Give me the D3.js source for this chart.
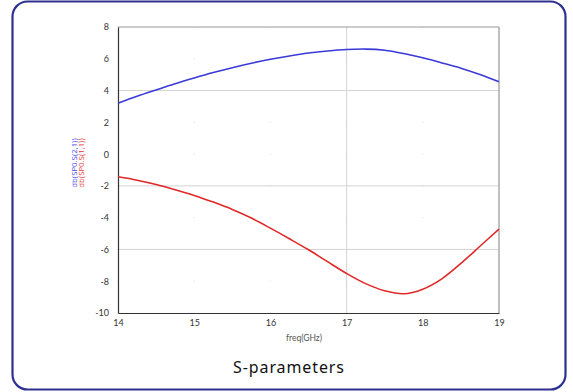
<!DOCTYPE html>
<html><head><meta charset="utf-8">
<script src="https://cdn.jsdelivr.net/npm/d3@7"></script>
<style>
html,body{margin:0;padding:0;background:#fff;}
svg{display:block;}
</style></head>
<body>
<svg id="c" width="573" height="392"></svg>
<script>
const freq = [14, 14.25, 14.5, 14.75, 15, 15.25, 15.5, 15.75, 16, 16.25, 16.5, 16.75, 17, 17.25, 17.5, 17.75, 18, 18.25, 18.5, 18.75, 19];
const s21 = [3.2, 3.64, 4.04, 4.43, 4.79, 5.13, 5.44, 5.72, 5.97, 6.18, 6.36, 6.49, 6.58, 6.61, 6.54, 6.33, 6.06, 5.74, 5.41, 5.01, 4.55];
const s11 = [-1.43, -1.64, -1.91, -2.24, -2.6, -3.02, -3.48, -4.02, -4.66, -5.33, -6.02, -6.77, -7.51, -8.15, -8.6, -8.79, -8.5, -7.85, -6.88, -5.8, -4.72];
const xTicks = [14, 15, 16, 17, 18, 19];
const yTicks = [-10, -8, -6, -4, -2, 0, 2, 4, 6, 8];
const seriesNames = ["db(SP0.S(2,1))", "db(SP0.S(1,1))"];
const chartTitle = "S-parameters";
const xTitle = "freq(GHz)";

const svg = d3.select("#c");
svg.append("rect").attr("x", 12.5).attr("y", 1.5).attr("width", 553).attr("height", 388)
  .attr("rx", 15).attr("fill", "#fff").attr("stroke", "#2e3190").attr("stroke-width", 2.2);

const x = d3.scaleLinear().domain([14, 19]).range([118, 499]);
const y = d3.scaleLinear().domain([-10, 8]).range([313, 27]);

const g = svg.append("g");
// faint grid dots at intersections
xTicks.forEach(t => yTicks.forEach(v => {
  g.append("rect").attr("x", x(t) - 0.5).attr("y", y(v) - 0.5).attr("width", 1).attr("height", 1).attr("fill", "#ddd");
}));
// visible grid lines
[4, -2, -6].forEach(v => g.append("line").attr("x1", x(14)).attr("x2", x(19)).attr("y1", y(v)).attr("y2", y(v))
  .attr("stroke", "#d4d4d4").attr("stroke-width", 1));
[17].forEach(t => g.append("line").attr("x1", x(t)).attr("x2", x(t)).attr("y1", y(8)).attr("y2", y(-10))
  .attr("stroke", "#d4d4d4").attr("stroke-width", 1));
// top/right frame
g.append("line").attr("x1", x(14)).attr("x2", x(19)).attr("y1", y(8)).attr("y2", y(8)).attr("stroke", "#9a9a9a").attr("stroke-width", 1.2);
g.append("line").attr("x1", x(19)).attr("x2", x(19)).attr("y1", y(8)).attr("y2", y(-10)).attr("stroke", "#b0b0b0").attr("stroke-width", 1.6);

// axes
const xa = svg.append("g").attr("transform", `translate(0,${y(-10)})`)
  .call(d3.axisBottom(x).tickValues(xTicks).tickSize(0).tickPadding(7).tickFormat(d3.format("d")));
const ya = svg.append("g").attr("transform", `translate(${x(14)},0)`)
  .call(d3.axisLeft(y).tickValues(yTicks).tickSize(0).tickPadding(9).tickFormat(d => d < 0 ? "-" + Math.abs(d) : d));
[xa, ya].forEach(a => {
  a.select(".domain").attr("stroke", "#333").attr("stroke-width", 1.2);
  a.selectAll("text").attr("font-family", "Lato, 'Open Sans', sans-serif").attr("font-size", 9).attr("fill", "#333");
});

const line = d3.line().curve(d3.curveCatmullRom.alpha(0.5));
svg.append("path").attr("d", line(freq.map((f, i) => [x(f), y(s21[i])])))
  .attr("fill", "none").attr("stroke", "#3a3ad8").attr("stroke-width", 1.6);
svg.append("path").attr("d", line(freq.map((f, i) => [x(f), y(s11[i])])))
  .attr("fill", "none").attr("stroke", "#e02828").attr("stroke-width", 1.6);

// y labels
const labColors = ["#4444ee", "#ee3333"];
seriesNames.forEach((n, i) => {
  svg.append("text").attr("transform", `translate(${76.5 + i * 7},163) rotate(-90)`)
    .attr("text-anchor", "middle").attr("font-family", "'Open Sans', sans-serif").attr("font-size", 7.8)
    .attr("fill", labColors[i]).text(n);
});
svg.append("text").attr("x", 304).attr("y", 341).attr("text-anchor", "middle")
  .attr("font-family", "Lato, 'Open Sans', sans-serif").attr("font-size", 8.5).attr("fill", "#555").text(xTitle);
svg.append("text").attr("x", 289).attr("y", 373).attr("text-anchor", "middle")
  .attr("font-family", "'Noto Sans', 'Open Sans', sans-serif").attr("font-size", 16).attr("letter-spacing", 0.9)
  .attr("fill", "#111").text(chartTitle);
</script>
</body></html>
